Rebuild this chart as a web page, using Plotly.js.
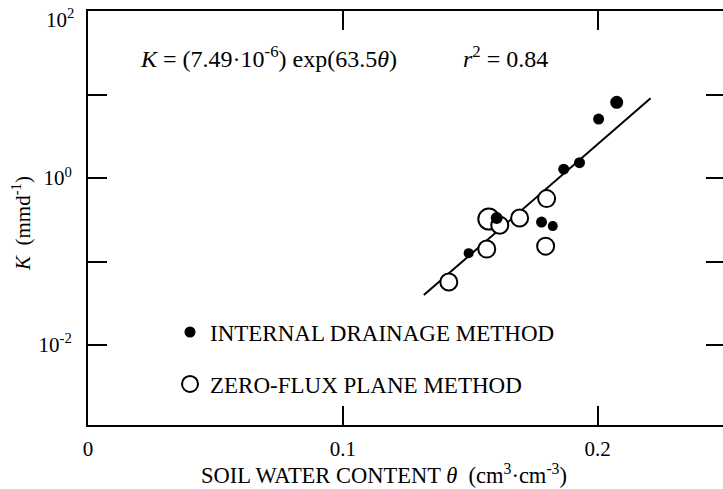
<!DOCTYPE html>
<html>
<head>
<meta charset="utf-8">
<script src="https://cdn.plot.ly/plotly-3.0.1.min.js"></script>
<style>
html,body{margin:0;padding:0;overflow:hidden;background:#fff;}
#chart{width:727px;height:489px;}
</style>
</head>
<body>
<div id="chart"></div>
<script>
// Internal drainage method (filled dots)
const drainTheta = [0.2075, 0.2004, 0.1929, 0.1867, 0.1780, 0.1824, 0.1604, 0.1494];
const drainK     = [8.1, 5.1, 1.53, 1.28, 0.297, 0.266, 0.332, 0.126];
// Zero-flux plane method (open circles)
const zfpTheta = [0.1800, 0.1694, 0.1573, 0.1616, 0.1796, 0.1565, 0.1416];
const zfpK     = [0.568, 0.332, 0.323, 0.273, 0.153, 0.141, 0.0568];
// Regression line endpoints
const fitTheta = [0.1318, 0.2208];
const fitK     = [0.0397, 9.08];
// Tick labels
const xTickVals = [0, 0.1, 0.2];
const xTickText = ['0', '0.1', '0.2'];
const yTickVals = [0.01, 0.1, 1, 10, 100];
const yTickText = ['10<sup>-2</sup>', '', '10<sup>0</sup>', '', ''];
const yTopLabel = '10<sup>2</sup>';

const serif = 'Liberation Serif, Times New Roman, serif';

const traces = [
  {x: fitTheta, y: fitK, mode: 'lines', line: {color: '#000', width: 2},
   showlegend: false, hoverinfo: 'skip'},
  {x: zfpTheta, y: zfpK, mode: 'markers', name: 'ZERO-FLUX PLANE METHOD',
   marker: {symbol: 'circle', color: '#fff', opacity: 1, size: [17, 17, 21, 17, 17, 17, 17],
            line: {color: '#000', width: 2}},
   legend: 'legend2'},
  {x: drainTheta, y: drainK, mode: 'markers', name: 'INTERNAL DRAINAGE METHOD',
   marker: {symbol: 'circle', color: '#000', opacity: 1, size: [13, 11, 11, 11, 11, 10, 12, 10],
            line: {width: 0}},
   legend: 'legend'}
];

const axisCommon = {
  showline: true, linecolor: '#000', linewidth: 2,
  ticks: 'inside', ticklen: 19, tickwidth: 2, tickcolor: '#000',
  mirror: 'allticks', showgrid: false, zeroline: false,
  ticklabeloverflow: 'allow',
  tickfont: {family: serif, size: 21, color: '#000'}
};

const layout = {
  width: 727, height: 489,
  margin: {l: 88, r: 2, t: 11, b: 64},
  paper_bgcolor: '#fff', plot_bgcolor: '#fff',
  font: {family: serif, color: '#000'},
  xaxis: Object.assign({}, axisCommon, {
    range: [0, 0.25], tickmode: 'array', tickvals: xTickVals, ticktext: xTickText,
    ticklabelstandoff: 4
  }),
  yaxis: Object.assign({}, axisCommon, {
    type: 'log', range: [-2.96, 2.004], tickmode: 'array',
    tickvals: yTickVals, ticktext: yTickText, ticklabelstandoff: 10
  }),
  legend: {x: (170 - 88) / 637, y: (425 - 332) / 414, xanchor: 'left', yanchor: 'middle',
           bgcolor: 'rgba(0,0,0,0)', font: {family: serif, size: 23, color: '#000'}},
  legend2: {x: (170 - 88) / 637, y: (425 - 384) / 414, xanchor: 'left', yanchor: 'middle',
            bgcolor: 'rgba(0,0,0,0)', font: {family: serif, size: 23, color: '#000'}},
  annotations: [
    {xref: 'paper', yref: 'paper', x: (76 - 88) / 637, y: (425 - 19) / 414,
     xanchor: 'right', yanchor: 'middle', showarrow: false,
     text: yTopLabel, font: {family: serif, size: 21, color: '#000'}},
    {xref: 'paper', yref: 'paper', x: (138 - 88) / 637, y: (425 - 57) / 414,
     xanchor: 'left', yanchor: 'middle', showarrow: false,
     text: '<i>K</i> = (7.49·10<sup>-6</sup>) exp(63.5<i>θ</i>)',
     font: {family: serif, size: 24, color: '#000'}},
    {xref: 'paper', yref: 'paper', x: (461 - 88) / 637, y: (425 - 57) / 414,
     xanchor: 'left', yanchor: 'middle', showarrow: false,
     text: '<i>r</i><sup>2</sup> = 0.84',
     font: {family: serif, size: 24, color: '#000'}},
    {xref: 'paper', yref: 'paper', x: (384 - 88) / 637, y: (425 - 474) / 414,
     xanchor: 'center', yanchor: 'middle', showarrow: false,
     text: 'SOIL WATER CONTENT <i>θ</i>  (cm<sup>3</sup>·cm<sup>-3</sup>)',
     font: {family: serif, size: 22.5, color: '#000'}},
    {xref: 'paper', yref: 'paper', x: (21 - 88) / 637, y: (425 - 224) / 414,
     xanchor: 'center', yanchor: 'middle', showarrow: false, textangle: -90,
     text: '<i>K</i>  (mmd<sup>-1</sup>)',
     font: {family: serif, size: 21, color: '#000'}}
  ]
};

Plotly.newPlot('chart', traces, layout, {displayModeBar: false, staticPlot: true});
</script>
</body>
</html>
